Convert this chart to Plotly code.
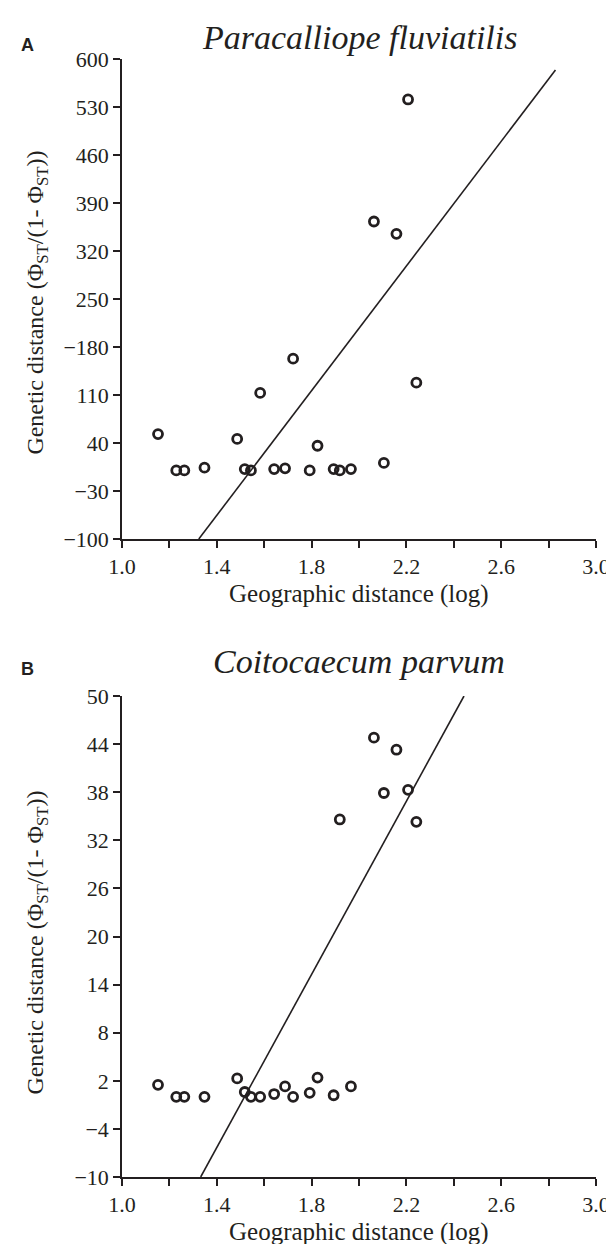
import plotly.graph_objects as go

# ---- data ----
geo_log = [1.152, 1.229, 1.263, 1.348, 1.486, 1.518, 1.544, 1.583, 1.642, 1.688, 1.722,
           1.792, 1.825, 1.893, 1.919, 1.966, 2.063, 2.105, 2.158, 2.207, 2.242]
gen_a = [53, 0, 0, 4, 46, 2, 0, 113, 2, 3, 163, 0, 36, 2, 0, 2, 363, 11, 345, 541, 128]
gen_b = [1.5, 0, 0, 0, 2.3, 0.6, 0, 0, 0.35, 1.3, 0, 0.5, 2.4, 0.2, 34.6, 1.3, 44.8, 37.9, 43.3, 38.3, 34.3]

fit_a_x = [1.324, 2.829]
fit_a_y = [-100, 584]
fit_b_x = [1.332, 2.443]
fit_b_y = [-10, 50]

x_tickvals = [1.0, 1.4, 1.8, 2.2, 2.6, 3.0]
x_ticktext = ["1.0", "1.4", "1.8", "2.2", "2.6", "3.0"]
x_minorvals = [1.2, 1.6, 2.0, 2.4, 2.8]
ya_tickvals = [-100, -30, 40, 110, 180, 250, 320, 390, 460, 530, 600]
ya_ticktext = ["\u2212100", "\u221230", "40", "110", "\u2212180", "250", "320", "390", "460", "530", "600"]
yb_tickvals = [-10, -4, 2, 8, 14, 20, 26, 32, 38, 44, 50]
yb_ticktext = ["\u221210", "\u22124", "2", "8", "14", "20", "26", "32", "38", "44", "50"]

titles = ["Paracalliope fluviatilis", "Coitocaecum parvum"]
panel_letters = ["A", "B"]
x_title = "Geographic distance (log)"
y_title = "Genetic distance (\u03a6<sub>ST</sub>/(1- \u03a6<sub>ST</sub>))"

# ---- layout geometry (pixels) ----
W, H = 614, 1244
L, R, T, B = 114, 17, 51, 75
PH = H - T - B
INK = "#231f20"
SERIF = "Liberation Serif, Times New Roman, serif"


def py(ypix):
    return (H - B - ypix) / PH


def px(xpix):
    return (xpix - L) / (W - L - R)


fig = go.Figure()

marker = dict(symbol="circle-open", size=9, color=INK, line=dict(width=2.8, color=INK))
fig.add_trace(go.Scatter(x=geo_log, y=gen_a, mode="markers", marker=marker,
                         xaxis="x", yaxis="y", showlegend=False))
fig.add_trace(go.Scatter(x=fit_a_x, y=fit_a_y, mode="lines", line=dict(color=INK, width=1.6),
                         xaxis="x", yaxis="y", showlegend=False))
fig.add_trace(go.Scatter(x=geo_log, y=gen_b, mode="markers", marker=marker,
                         xaxis="x2", yaxis="y2", showlegend=False))
fig.add_trace(go.Scatter(x=fit_b_x, y=fit_b_y, mode="lines", line=dict(color=INK, width=1.6),
                         xaxis="x2", yaxis="y2", showlegend=False))

axis_common = dict(showgrid=False, zeroline=False, showline=True, linecolor=INK, linewidth=1.6,
                   ticks="outside", ticklen=7, tickwidth=1.6, tickcolor=INK,
                   tickfont=dict(family=SERIF, size=22, color=INK))
minor_x = dict(tickvals=x_minorvals, ticks="outside", ticklen=7, tickwidth=1.6,
               tickcolor=INK, showgrid=False)

fig.update_layout(
    width=W, height=H,
    margin=dict(l=L, r=R, t=T, b=B),
    paper_bgcolor="white", plot_bgcolor="white",
    xaxis=dict(domain=[0, 1], range=[1.0, 3.0], tickvals=x_tickvals, ticktext=x_ticktext,
               minor=minor_x, anchor="y", **axis_common),
    yaxis=dict(domain=[py(531), py(51)], range=[-100, 600], tickvals=ya_tickvals,
               ticktext=ya_ticktext, anchor="x", **axis_common),
    xaxis2=dict(domain=[0, 1], range=[1.0, 3.0], tickvals=x_tickvals, ticktext=x_ticktext,
                minor=minor_x, anchor="y2", **axis_common),
    yaxis2=dict(domain=[py(1169), py(688)], range=[-10, 50], tickvals=yb_tickvals,
                ticktext=yb_ticktext, anchor="x2", **axis_common),
)

ann = []
for title, letter, ty, ly, xy, yc in [
    (titles[0], panel_letters[0], 30, 37, 586, 295),
    (titles[1], panel_letters[1], 653, 661, 1224, 935),
]:
    ann.append(dict(text=title, x=px(356), y=py(ty), xref="paper", yref="paper",
                    xanchor="center", yanchor="middle", showarrow=False,
                    font=dict(family=SERIF, size=34, color=INK, style="italic")))
    ann.append(dict(text="<b>%s</b>" % letter, x=px(18), y=py(ly), xref="paper", yref="paper",
                    xanchor="center", yanchor="middle", showarrow=False,
                    font=dict(family="Liberation Sans, Arial, sans-serif", size=18, color=INK)))
    ann.append(dict(text=x_title, x=px(356), y=py(xy), xref="paper", yref="paper",
                    xanchor="center", yanchor="middle", showarrow=False,
                    font=dict(family=SERIF, size=25, color=INK)))
    ann.append(dict(text=y_title, x=px(27), y=py(yc), xref="paper", yref="paper",
                    xanchor="center", yanchor="middle", showarrow=False, textangle=-90,
                    font=dict(family=SERIF, size=24, color=INK)))
fig.update_layout(annotations=ann)

fig.write_html("out.html")
